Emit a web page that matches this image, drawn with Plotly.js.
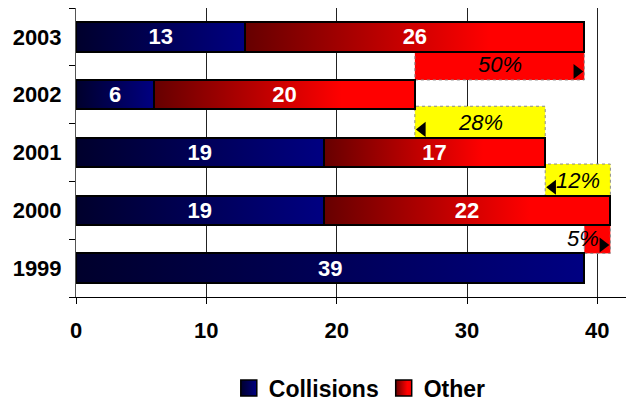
<!DOCTYPE html>
<html>
<head>
<meta charset="utf-8">
<script src="https://cdn.plot.ly/plotly-3.0.1.min.js"></script>
<style>
  body { margin: 0; background: #fff; }
  #chart { width: 626px; height: 410px; }
</style>
</head>
<body>
<div id="chart"></div>
<script>
// data
const years = ["1999", "2000", "2001", "2002", "2003"];
const collisions = [39, 19, 19, 6, 13];
const other = [0, 22, 17, 20, 26];
// year-to-year change labels (1999->2000, 2000->2001, ...)
const changeLabels = ["5%", "12%", "28%", "50%"];
const xTicks = [0, 10, 20, 30, 40];

const totals = years.map((y, i) => collisions[i] + other[i]);

const W = 626, H = 410;
const margin = { l: 76, r: 0, t: 8, b: 107, pad: 0 };
const xRange = [0, 42.2];
const pxPerUnit = (W - margin.l - margin.r) / (xRange[1] - xRange[0]);
const FONT = "Liberation Sans, Arial, sans-serif";
const ARROW = 13;

const barBase = {
  type: "bar",
  orientation: "h",
  y: years,
  textposition: "inside",
  insidetextanchor: "middle",
  textangle: 0,
  textfont: { family: FONT, size: 22, color: "#fff", weight: "bold" },
  hoverinfo: "none",
};

const traces = [
  Object.assign({}, barBase, {
    name: "Collisions",
    x: collisions,
    text: collisions.map(v => (v ? String(v) : "")),
    marker: { color: "#000080", line: { color: "#000", width: 2 } },
  }),
  Object.assign({}, barBase, {
    name: "Other",
    x: other,
    text: other.map(v => (v ? String(v) : "")),
    marker: { color: "#ff0000", line: { color: "#000", width: 2 } },
  }),
];

// change boxes between bars + arrow heads + labels
const shapes = [];
const annotations = [];
const arrowX = [], arrowY = [], arrowSym = [];
const tipOff = (ARROW / 2 * 2 / Math.sqrt(3)) / pxPerUnit;

for (let k = 0; k < changeLabels.length; k++) {
  const a = totals[k], b = totals[k + 1];
  const up = b > a;
  shapes.push({
    type: "rect", layer: "between",
    xref: "x", yref: "y",
    x0: Math.min(a, b), x1: Math.max(a, b),
    y0: k + 0.255, y1: k + 0.8,
    fillcolor: up ? "#ff0000" : "#ffff00",
    line: { color: "#8a8a8a", width: 1, dash: "dot" },
  });
  arrowX.push(up ? b - tipOff : b + tipOff);
  arrowY.push(k + 0.4);
  arrowSym.push(up ? "triangle-right" : "triangle-left");
  const narrow = Math.abs(b - a) < 3;
  annotations.push({
    xref: "x", yref: "y",
    x: (a + b) / 2, y: k + 0.52,
    xshift: narrow ? -14 : 0,
    text: changeLabels[k],
    showarrow: false,
    font: { family: FONT, size: 22, color: "#000", style: "italic" },
  });
}

// arrow heads live on a hidden numeric axis laid over the category axis
traces.push({
  type: "scatter",
  mode: "markers",
  x: arrowX,
  y: arrowY,
  yaxis: "y2",
  marker: { symbol: arrowSym, size: ARROW, color: "#000" },
  showlegend: false,
  hoverinfo: "none",
});

const layout = {
  width: W,
  height: H,
  margin: margin,
  paper_bgcolor: "#fff",
  plot_bgcolor: "#fff",
  barmode: "stack",
  bargap: 0.49,
  font: { family: FONT, size: 22, color: "#000" },
  uniformtext: { mode: "show", minsize: 22 },
  xaxis: {
    range: xRange,
    tickvals: xTicks,
    showgrid: true,
    gridcolor: "#222",
    gridwidth: 1,
    zeroline: false,
    showline: true,
    linecolor: "#000",
    linewidth: 1,
    ticks: "outside",
    ticklen: 6,
    tickcolor: "#000",
    ticklabelstandoff: 8,
    tickfont: { family: FONT, size: 22, weight: "bold" },
    fixedrange: true,
  },
  yaxis: {
    type: "category",
    categoryorder: "array",
    categoryarray: years,
    range: [-0.5, 4.5],
    showgrid: false,
    zeroline: false,
    showline: true,
    linecolor: "#555",
    linewidth: 1,
    ticks: "outside",
    tickson: "boundaries",
    ticklen: 6,
    tickcolor: "#000",
    ticklabelstandoff: 9,
    tickfont: { family: FONT, size: 22, weight: "bold" },
    fixedrange: true,
  },
  yaxis2: {
    type: "linear",
    overlaying: "y",
    range: [-0.5, 4.5],
    visible: false,
    fixedrange: true,
  },
  showlegend: true,
  legend: {
    orientation: "h",
    traceorder: "normal",
    x: 0.516,
    xanchor: "center",
    y: -0.315,
    yanchor: "middle",
    font: { family: FONT, size: 23, weight: "bold" },
    itemclick: false,
    itemdoubleclick: false,
  },
  shapes: shapes,
  annotations: annotations,
};

function addGradient(svg, id, stops) {
  const ns = "http://www.w3.org/2000/svg";
  let defs = svg.querySelector("defs");
  if (!defs) { defs = document.createElementNS(ns, "defs"); svg.insertBefore(defs, svg.firstChild); }
  const g = document.createElementNS(ns, "linearGradient");
  g.setAttribute("id", id);
  g.setAttribute("x1", "0"); g.setAttribute("y1", "0");
  g.setAttribute("x2", "1"); g.setAttribute("y2", "0");
  stops.forEach(([off, col]) => {
    const s = document.createElementNS(ns, "stop");
    s.setAttribute("offset", off);
    s.setAttribute("stop-color", col);
    g.appendChild(s);
  });
  defs.appendChild(g);
}

Plotly.newPlot("chart", traces, layout, { displayModeBar: false, staticPlot: true }).then(gd => {
  const svg = gd.querySelector(".main-svg");
  addGradient(svg, "gradBlue", [["0", "#00002c"], ["1", "#000082"]]);
  addGradient(svg, "gradRed", [["0", "#660000"], ["0.72", "#ff0000"], ["1", "#ff0000"]]);
  const fills = { Collisions: "url(#gradBlue)", Other: "url(#gradRed)" };

  // gradient fill for the bar segments
  const barFills = [fills.Collisions, fills.Other];
  gd.querySelectorAll(".barlayer .trace").forEach((t, i) => {
    t.querySelectorAll(".point path").forEach(p => { p.style.fill = barFills[i]; });
  });
  // bigger gradient squares in the legend
  gd.querySelectorAll(".legend .traces").forEach(t => {
    const name = t.querySelector(".legendtext").textContent;
    t.querySelectorAll(".legendpoints path").forEach(p => {
      p.setAttribute("d", "M8,8H-8V-8H8Z");
      p.style.fill = fills[name];
      p.style.stroke = "#000";
      p.style.strokeWidth = "1.5px";
    });
  });
});
</script>
</body>
</html>
